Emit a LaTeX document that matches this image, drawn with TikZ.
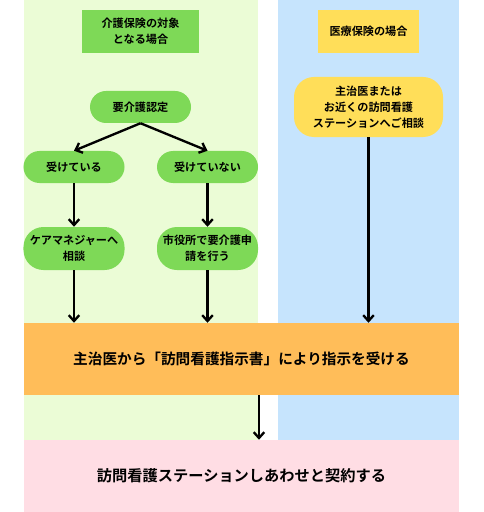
\documentclass[tikz,border=0pt]{standalone}
\usepackage{fontspec}
\setmainfont{Noto Sans CJK JP}[BoldFont={Noto Sans CJK JP Bold}]
\usetikzlibrary{arrows.meta}

\definecolor{kaigobg}{HTML}{EBFCD6}
\definecolor{iryobg}{HTML}{C6E4FD}
\definecolor{kaigogreen}{HTML}{7ED957}
\definecolor{iryoyellow}{HTML}{FFDE59}
\definecolor{shijiorange}{HTML}{FFBD59}
\definecolor{keiyakupink}{HTML}{FFDDE4}

\begin{document}
\begin{tikzpicture}[x=0.03cm,y=-0.03cm,
    box/.style={font=\bfseries\fontsize{9.5}{13.5}\selectfont,align=center,inner sep=0pt},
    pill/.style={box,rounded corners=0.48cm,minimum width=3.03cm,minimum height=0.96cm},
    bigpill/.style={box,rounded corners=0.6cm,minimum width=3.03cm,minimum height=1.29cm},
    band/.style={inner sep=0pt,minimum width=13.05cm,minimum height=2.16cm,
        font=\bfseries\fontsize{12.5}{15}\selectfont},
    arr/.style={-{Straight Barb[length=5pt,width=9pt]},line width=2pt}]
    \useasboundingbox (0,0) rectangle (483,512);

    % 背景の列
    \fill[kaigobg] (24,0) rectangle (258,440);
    \fill[iryobg] (278,0) rectangle (459,440);

    % 見出し
    \node[box,fill=kaigogreen,minimum width=3.51cm,minimum height=1.29cm] (hdrKaigo) at (140.5,31.5) {介護保険の対象\\となる場合};
    \node[box,fill=iryoyellow,minimum width=3.03cm,minimum height=1.29cm] (hdrIryo) at (368.5,31.5) {医療保険の場合};

    % 介護保険の流れ
    \node[pill,fill=kaigogreen] (nintei) at (140.5,107) {要介護認定};
    \node[pill,fill=kaigogreen] (ukeru) at (74,167) {受けている};
    \node[pill,fill=kaigogreen] (ukenai) at (207.5,167) {受けていない};
    \node[bigpill,fill=kaigogreen] (caremane) at (74,248.5) {ケアマネジャーへ\\相談};
    \node[bigpill,fill=kaigogreen] (shiyakusho) at (207.5,248.5) {市役所で要介護申\\請を行う};

    % 医療保険の流れ
    \node[box,fill=iryoyellow,rounded corners=0.6cm,minimum width=4.47cm,minimum height=1.8cm] (soudan) at (368.5,107) {主治医または\\お近くの訪問看護\\ステーションへご相談};

    % 共通の流れ
    \node[band,fill=shijiorange] (shiji) at (241.5,359) {主治医から「訪問看護指示書」により指示を受ける};
    \node[band,fill=keiyakupink,font=\bfseries\fontsize{13}{15}\selectfont] (keiyaku) at (241.5,476) {訪問看護ステーションしあわせと契約する};

    % 矢印
    \draw[arr] (nintei.south) -- (ukeru.north);
    \draw[arr] (nintei.south) -- (ukenai.north);
    \draw[arr] (ukeru.south) -- (caremane.north);
    \draw[arr] (ukenai.south) -- (shiyakusho.north);
    \draw[arr] (caremane.south) -- (caremane.south |- shiji.north);
    \draw[arr] (shiyakusho.south) -- (shiyakusho.south |- shiji.north);
    \draw[arr] (soudan.south) -- (soudan.south |- shiji.north);
    \draw[arr] ([xshift=0.525cm]shiji.south) -- ([xshift=0.525cm]keiyaku.north);
\end{tikzpicture}
\end{document}
